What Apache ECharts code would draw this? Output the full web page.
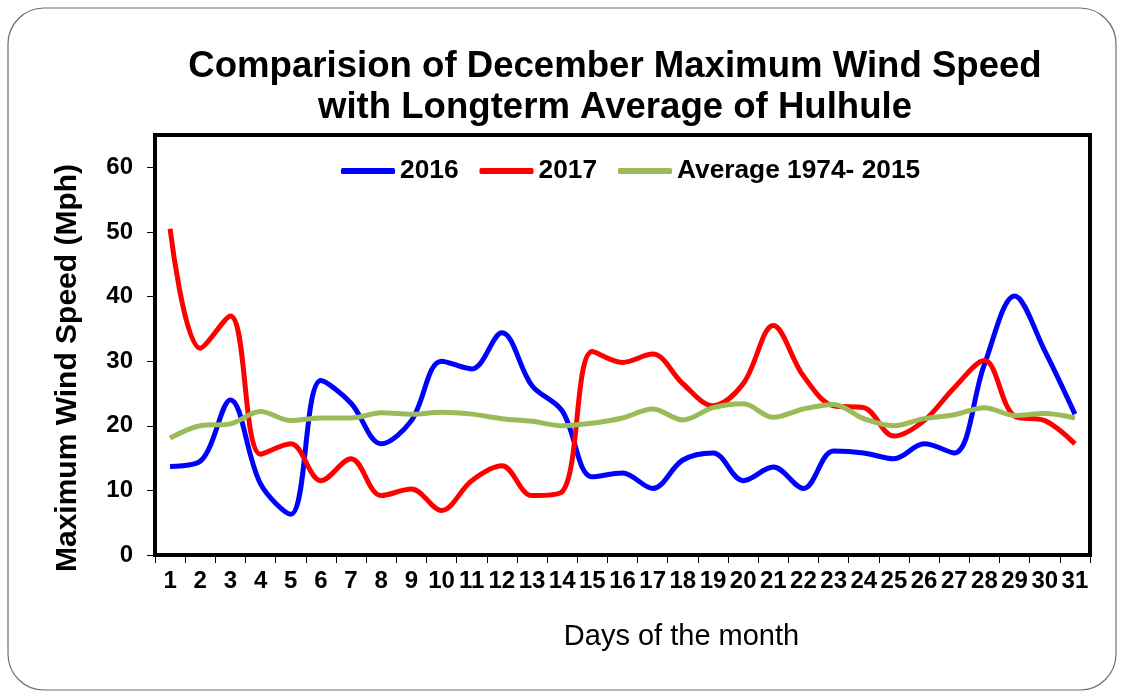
<!DOCTYPE html>
<html>
<head>
<meta charset="utf-8">
<script src="https://cdn.jsdelivr.net/npm/echarts@6/dist/echarts.min.js"></script>
<style>
html,body{margin:0;padding:0;background:#fff;}
#chart{width:1121px;height:691px;}
</style>
</head>
<body>
<div id="chart"></div>
<script>
const days = ['1','2','3','4','5','6','7','8','9','10','11','12','13','14','15','16','17','18','19','20','21','22','23','24','25','26','27','28','29','30','31'];
const speed2016 = [13.7,14.5,24,11,6.3,27,23.5,17.2,20.8,30,28.8,34.4,26.2,22.3,12.1,12.7,10.3,14.7,15.8,11.5,13.6,10.3,16.1,15.8,14.9,17.2,15.8,29.5,40.1,31.6,21.8];
const speed2017 = [50.5,32,37,15.6,17.2,11.5,14.9,9.2,10.2,6.9,11.5,13.8,9.2,9.8,31.5,29.8,31.1,26.5,23.1,26.5,35.5,27.7,23.1,22.8,18.4,20.8,25.9,30.1,21.5,20.8,17.2];
const speedAvg = [18.1,20,20.3,22.2,20.8,21.2,21.2,22,21.8,22.1,21.8,21.1,20.7,20,20.4,21.2,22.6,20.9,22.8,23.4,21.3,22.6,23.3,21.1,20,21.1,21.7,22.8,21.6,21.9,21.2];
const seriesNames = ['2016','2017','Average 1974- 2015'];
const yTicks = [0,10,20,30,40,50,60];

const FF = '"Liberation Sans", Arial, sans-serif';
const chart = echarts.init(document.getElementById('chart'));
chart.setOption({
  animation: false,
  backgroundColor: '#fff',
  graphic: [{
    type: 'rect',
    shape: {x: 8, y: 8, width: 1108, height: 682, r: 36},
    style: {fill: 'none', stroke: '#6f6f6f', lineWidth: 1.2},
    z: -1
  }],
  title: {
    text: 'Comparision of December Maximum Wind Speed\nwith Longterm Average of Hulhule',
    left: 610, top: 41, textAlign: 'center',
    textStyle: {fontFamily: FF, fontSize: 36.6, fontWeight: 'bold', color: '#000', lineHeight: 41}
  },
  legend: {
    top: 153, left: 336, width: 760,
    itemWidth: 54, itemHeight: 6, itemGap: 21,
    icon: 'roundRect',
    textStyle: {fontFamily: FF, fontSize: 26.3, fontWeight: 'bold', color: '#000'},
    data: seriesNames
  },
  grid: {left: 155, right: 31, top: 135, bottom: 136, show: true, borderColor: '#000', borderWidth: 4, backgroundColor: 'transparent'},
  xAxis: {
    type: 'category', data: days, boundaryGap: true,
    name: 'Days of the month', nameLocation: 'middle', nameGap: 67,
    nameTextStyle: {fontFamily: FF, fontSize: 29, color: '#000', padding: [0,0,0,118]},
    axisLine: {show: true, lineStyle: {color: '#000', width: 4}},
    axisTick: {show: true, inside: false, length: 8, lineStyle: {color: '#000', width: 1}},
    axisLabel: {interval: 0, margin: 14, fontFamily: FF, fontSize: 24, fontWeight: 'bold', color: '#000'},
    splitLine: {show: false}
  },
  yAxis: {
    type: 'value', min: 0, max: 65, interval: 10,
    name: 'Maximum Wind Speed (Mph)', nameLocation: 'middle', nameGap: 72,
    nameTextStyle: {fontFamily: FF, fontSize: 30, fontWeight: 'bold', color: '#000', padding: [0,46,0,0]},
    axisLine: {show: true, lineStyle: {color: '#000', width: 4}},
    axisTick: {show: true, inside: false, length: 8, lineStyle: {color: '#000', width: 1}},
    axisLabel: {margin: 22, showMaxLabel: false, fontFamily: FF, fontSize: 24, fontWeight: 'bold', color: '#000',
      formatter: v => yTicks.indexOf(v) >= 0 ? String(v) : ''},
    splitLine: {show: false}
  },
  series: [
    {name: seriesNames[0], type: 'line', data: speed2016, smooth: 0.35, symbol: 'none', color: '#0000FF', lineStyle: {width: 5, color: '#0000FF'}},
    {name: seriesNames[1], type: 'line', data: speed2017, smooth: 0.35, symbol: 'none', color: '#FF0000', lineStyle: {width: 5, color: '#FF0000'}},
    {name: seriesNames[2], type: 'line', data: speedAvg, smooth: 0.35, symbol: 'none', color: '#9BBB59', lineStyle: {width: 5, color: '#9BBB59'}}
  ]
});
</script>
</body>
</html>
